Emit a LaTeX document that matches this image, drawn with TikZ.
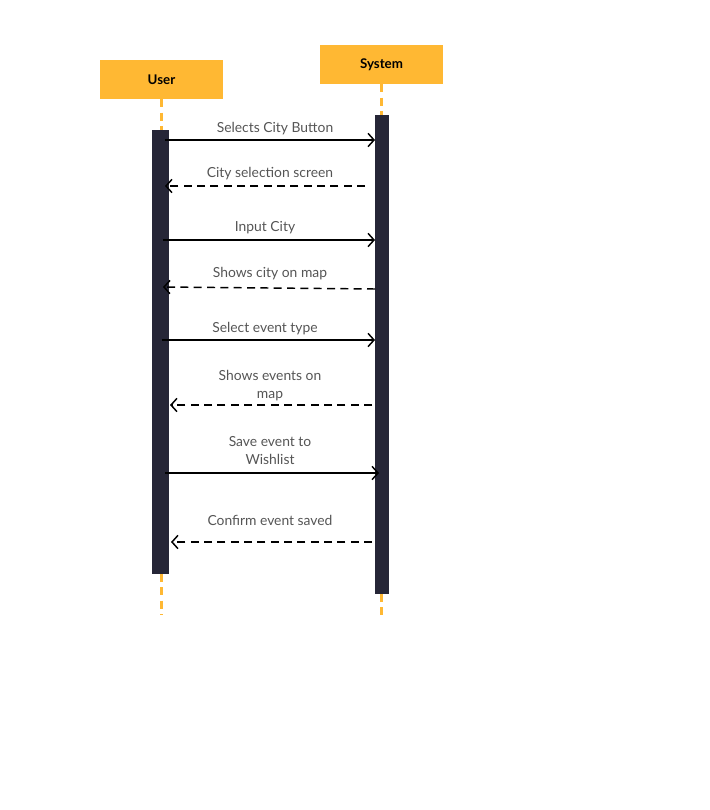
\documentclass[tikz,border=0pt]{standalone}
\usepackage{fontspec}
\setmainfont{Lato}
\definecolor{headorange}{HTML}{FFB833}
\definecolor{bardark}{HTML}{262637}
\definecolor{labelgray}{HTML}{555555}
\tikzset{
  headbox/.style={fill=headorange, minimum width=92.25pt, minimum height=29.25pt, inner sep=0pt, font=\fontsize{10}{12}\selectfont\bfseries},
  lifeline/.style={color=headorange, line width=1.6pt, dash pattern=on 6pt off 4pt},
  msg/.style={black, line width=1.1pt, -{Straight Barb[length=4.5pt,width=10pt]}},
  reply/.style={black, line width=1.1pt, dash pattern=on 6pt off 4pt, -{Straight Barb[length=4.5pt,width=10pt]}},
  msglabel/.style={labelgray, font=\fontsize{10.4}{14}\selectfont, align=center}
}
\usetikzlibrary{arrows.meta}
\begin{document}
\begin{tikzpicture}[x=0.75pt,y=-0.75pt]
                \useasboundingbox (0,0) rectangle (710,810);
                \node[headbox] (user) at (161.5,79.5) {User};
                \node[headbox] (system) at (381.5,64.5) {System};
                \fill[bardark] (152,130) rectangle (169,574);
                \fill[bardark] (375,115) rectangle (389,594);
                \coordinate (userbartop) at (161.5,130);
                \coordinate (userbarbot) at (161.5,574);
                \coordinate (userend) at (161.5,615);
                \coordinate (sysbartop) at (381.5,115);
                \coordinate (sysbarbot) at (381.5,594);
                \coordinate (sysend) at (381.5,615);
                \draw[lifeline] (user.south) -- (userbartop);
                \draw[lifeline] (userbarbot) -- (userend);
                \draw[lifeline] (system.south) -- (sysbartop);
                \draw[lifeline] (sysbarbot) -- (sysend);
                % messages
                \coordinate (u1) at (165,140);  \coordinate (s1) at (375,140);
                \coordinate (s2) at (365,186);  \coordinate (u2) at (165,186);
                \coordinate (u3) at (163,240);  \coordinate (s3) at (375,240);
                \coordinate (s4) at (375,289);  \coordinate (u4) at (163,287);
                \coordinate (u5) at (162,340);  \coordinate (s5) at (375,340);
                \coordinate (s6) at (372,405);  \coordinate (u6) at (170,405);
                \coordinate (u7) at (165,473);  \coordinate (s7) at (379,473);
                \coordinate (s8) at (372,542);  \coordinate (u8) at (171,542);
                \draw[msg] (u1) -- (s1);
                \draw[reply] (s2) -- (u2);
                \draw[msg] (u3) -- (s3);
                \draw[reply] (s4) -- (u4);
                \draw[msg] (u5) -- (s5);
                \draw[reply] (s6) -- (u6);
                \draw[msg] (u7) -- (s7);
                \draw[reply] (s8) -- (u8);
                \node[msglabel] (l1) at (275,129) {Selects City Button};
                \node[msglabel] (l2) at (270,174) {City selection screen};
                \node[msglabel] (l3) at (265,228) {Input City};
                \node[msglabel] (l4) at (270,274) {Shows city on map};
                \node[msglabel] (l5) at (265,329) {Select event type};
                \node[msglabel] (l6) at (270,385.5) {Shows events on\\map};
                \node[msglabel] (l7) at (270,450.5) {Save event to\\Wishlist};
                \node[msglabel] (l8) at (270,520) {Confirm event saved};
            \end{tikzpicture}
\end{document}
